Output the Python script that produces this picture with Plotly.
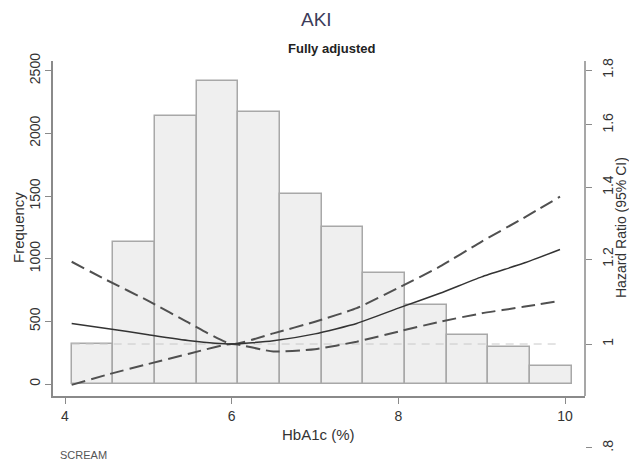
import plotly.graph_objects as go

# ---- data ----
bin_centers = [4.33, 4.83, 5.33, 5.83, 6.33, 6.83, 7.33, 7.83, 8.33, 8.83, 9.33, 9.83]
bin_width = 0.5
frequency = [320, 1130, 2135, 2420, 2170, 1515, 1250, 885, 630, 395, 295, 140]

hba1c = [4.08, 4.5, 5.0, 5.5, 6.0, 6.5, 7.0, 7.5, 8.0, 8.5, 9.0, 9.5, 9.94]
hr = [1.045, 1.034, 1.020, 1.007, 1.000, 1.007, 1.022, 1.045, 1.080, 1.115, 1.155, 1.189, 1.225]
hr_upper = [1.193, 1.147, 1.097, 1.045, 1.000, 1.023, 1.049, 1.080, 1.128, 1.181, 1.246, 1.310, 1.372]
hr_lower = [0.916, 0.936, 0.958, 0.980, 1.000, 0.984, 0.989, 1.005, 1.027, 1.049, 1.068, 1.083, 1.097]
ref_x = [4.08, 9.94]
ref_hr = [1.0, 1.0]

x_ticks = [4, 6, 8, 10]
freq_ticks = [0, 500, 1000, 1500, 2000, 2500]
hr_ticks = [0.8, 1.0, 1.2, 1.4, 1.6, 1.8]
hr_tick_text = [".8", "1", "1.2", "1.4", "1.6", "1.8"]

# ---- layout geometry (pixels) ----
W, H = 629, 463
PL, PR, PT, PB = 53, 585, 61, 450   # plotting box (PB = bottom of right-axis domain)
X_AXIS_Y = 396                       # where the x axis sits

def px_x(x):
    return (x - PL) / (PR - PL)

def px_y(y):
    return (PB - y) / (PB - PT)

FONT = "Liberation Sans, Arial, sans-serif"
TXT = "#333333"
AX = "#8a8a8a"

fig = go.Figure()
fig.add_trace(go.Bar(
    x=bin_centers, y=frequency, width=bin_width,
    marker=dict(color="#efefef", line=dict(color="#a8a8a8", width=1.5)),
    xaxis="x", yaxis="y", showlegend=False,
))
fig.add_trace(go.Scatter(
    x=ref_x, y=ref_hr, mode="lines", yaxis="y2",
    line=dict(color="#c8c8c8", width=1, dash="8px,6px"), showlegend=False,
))
for series in (hr_upper, hr_lower):
    fig.add_trace(go.Scatter(
        x=hba1c, y=series, mode="lines", yaxis="y2",
        line=dict(color="#505050", width=2, dash="14px,6px", shape="spline", smoothing=0.5),
        showlegend=False,
    ))
fig.add_trace(go.Scatter(
    x=hba1c, y=hr, mode="lines", yaxis="y2",
    line=dict(color="#333333", width=1.5, shape="spline", smoothing=0.5),
    showlegend=False,
))

y_dom_bottom = px_y(X_AXIS_Y)
# left axis: 0 -> 384 px, 2500 -> 70.7 px
f_per_px = 2500 / (384 - 70.7)
y_lo = -(X_AXIS_Y - 384) * f_per_px
y_hi = (384 - PT) * f_per_px
# right axis (log10): HR 1 -> 344 px, 1073 px per decade
l_hi = (344 - PT) / 1073
l_lo = (344 - PB) / 1073
# x: 4 -> 65 px, 10 -> 565 px
x_per_px = 6 / (565 - 65)
x_lo = 4 - (65 - PL) * x_per_px
x_hi = 10 + (PR - 565) * x_per_px

tickfont = dict(family=FONT, size=14, color=TXT)
fig.update_layout(
    width=W, height=H,
    margin=dict(l=PL, r=W - PR, t=PT, b=H - PB, pad=0),
    paper_bgcolor="white", plot_bgcolor="rgba(0,0,0,0)",
    bargap=0,
    xaxis=dict(range=[x_lo, x_hi], tickvals=x_ticks, showgrid=False, zeroline=False,
               showline=True, linecolor=AX, linewidth=1.5, ticks="outside",
               ticklen=6, tickcolor=AX, tickwidth=1.2, tickfont=tickfont, anchor="y"),
    yaxis=dict(domain=[y_dom_bottom, 1], range=[y_lo, y_hi], tickvals=freq_ticks,
               showgrid=False, zeroline=False, showline=True, linecolor=AX, linewidth=1.5,
               ticks="outside", ticklen=6, tickcolor=AX, tickwidth=1.2, tickangle=-90,
               tickfont=tickfont, anchor="x"),
    yaxis2=dict(domain=[0, 1], type="log", range=[l_lo, l_hi], tickvals=hr_ticks,
                ticktext=hr_tick_text, side="right", anchor="x", showgrid=False,
                zeroline=False, showline=False, ticks="outside", ticklen=6,
                tickcolor=AX, tickwidth=1.2, tickangle=-90, tickfont=tickfont,
                ticklabelstandoff=4),
    shapes=[dict(type="line", xref="paper", yref="y domain", x0=1, x1=1, y0=0, y1=1,
                 line=dict(color=AX, width=1.5))],
)

def ann(text, x, y, size, color=TXT, angle=0, xanchor="center", bold=False):
    fig.add_annotation(text=f"<b>{text}</b>" if bold else text, xref="paper", yref="paper",
                       x=px_x(x), y=px_y(y), xanchor=xanchor, yanchor="middle",
                       showarrow=False, textangle=angle,
                       font=dict(family=FONT, size=size, color=color))

ann("AKI", 316, 20, 19, color="#3c3c5a")
ann("Fully adjusted", 331, 49, 13, color="#222222", bold=True)
ann("Frequency", 18, 228, 15, angle=-90)
ann("Hazard Ratio (95% CI)", 621, 228, 14, angle=-90)
ann("HbA1c (%)", 318, 434, 15)
ann("SCREAM", 58, 455, 11, color="#555555", xanchor="left")

fig.write_html("out.html", config={"displayModeBar": False},
               post_script="document.body.style.margin='0';document.body.style.overflow='hidden';")
